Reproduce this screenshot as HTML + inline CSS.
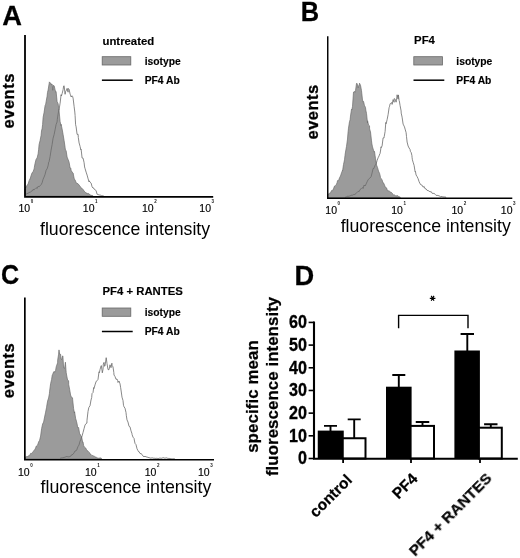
<!DOCTYPE html>
<html><head><meta charset="utf-8"><title>Figure</title>
<style>
html,body{margin:0;padding:0;background:#fff;}
body{width:520px;height:558px;overflow:hidden;font-family:"Liberation Sans",sans-serif;}
svg{display:block;}
</style></head><body>
<svg width="520" height="558" viewBox="0 0 520 558" font-family="'Liberation Sans', sans-serif" fill="#000">
<defs><filter id="soft" x="0" y="0" width="520" height="558" filterUnits="userSpaceOnUse"><feGaussianBlur stdDeviation="0.45"/></filter></defs>
<rect width="520" height="558" fill="#fff"/>
<g filter="url(#soft)">
<text transform="translate(2.3 24.8) scale(1.03 1.055)" font-size="26.5" font-weight="700" stroke="#000" stroke-width="0.25">A</text>
<text transform="translate(300.7 20.8) scale(0.96 1.055)" font-size="26.5" font-weight="700" stroke="#000" stroke-width="0.25">B</text>
<text transform="translate(0.9 283.9) scale(0.95 1.055)" font-size="26.5" font-weight="700" stroke="#000" stroke-width="0.25">C</text>
<text transform="translate(294.5 284.6) scale(1.03 1.055)" font-size="26.5" font-weight="700" stroke="#000" stroke-width="0.25">D</text>
<g id="A">
<path d="M25.1 196.2L25.1 189.0L26.1 187.1L27.1 185.2L28.1 184.0L29.1 180.7L30.0 178.9L30.1 179.1L31.1 175.5L32.1 172.7L33.1 171.8L34.1 168.9L34.3 167.5L35.1 163.2L36.1 159.3L37.1 158.0L38.1 153.9L38.6 149.8L39.1 144.4L40.1 140.5L41.1 135.3L41.5 131.0L42.1 128.6L42.6 124.6L43.1 117.5L43.9 113.2L44.1 112.3L45.1 105.4L45.7 104.2L46.1 101.7L47.1 96.2L47.5 92.4L48.1 90.1L49.1 83.8L49.4 81.9L50.1 82.7L51.0 84.5L51.1 84.0L52.1 84.1L52.8 90.3L53.1 85.3L54.1 86.0L54.2 85.9L55.1 89.8L55.7 92.2L56.1 91.7L57.1 101.5L58.1 103.7L59.1 110.9L60.1 121.5L61.0 125.6L61.1 124.3L62.1 128.9L63.1 134.5L64.1 140.6L65.1 147.4L65.4 150.0L66.1 150.5L67.1 157.1L68.1 159.5L69.1 162.2L70.1 168.0L70.8 168.1L71.1 170.3L72.1 172.1L73.1 173.0L74.1 178.2L75.1 180.5L75.4 180.5L76.1 182.7L77.1 183.3L78.1 183.8L79.1 185.1L80.1 186.3L81.1 187.7L81.5 188.3L82.1 188.4L83.1 189.5L84.1 191.1L85.1 191.9L86.1 193.1L87.1 193.0L87.7 193.9L88.1 193.6L89.1 193.8L90.1 195.0L91.1 195.3L92.1 195.6L93.0 195.8L93.0 196.2 Z" fill="#9b9b9b" stroke="#6c6c6c" stroke-width="0.7" stroke-linejoin="round"/>
<path d="M25.1 194.6L25.1 194.6L26.1 194.3L27.1 193.4L28.1 193.6L29.1 192.1L30.1 192.6L31.1 191.3L32.1 190.8L32.9 190.4L33.1 189.3L34.1 189.9L35.1 188.7L36.1 187.7L37.1 188.6L38.1 186.3L39.1 186.7L40.1 185.8L41.1 184.7L42.1 182.8L42.9 179.9L43.1 179.2L44.1 177.0L45.1 174.3L46.1 170.3L47.1 168.8L48.1 165.7L48.7 162.1L49.1 161.6L50.1 156.5L51.1 150.0L52.1 144.6L52.8 140.0L53.1 138.2L54.1 134.6L55.1 129.7L56.1 124.5L57.1 121.9L57.3 119.4L58.1 114.1L59.0 109.1L59.1 109.4L60.1 103.2L61.1 94.7L61.4 96.0L62.1 93.7L63.1 89.7L63.6 86.1L64.1 85.7L65.1 94.3L65.5 91.7L66.1 90.9L67.1 88.4L68.1 92.2L68.2 88.5L69.1 89.2L70.1 94.1L70.5 94.9L71.1 97.0L72.1 95.8L72.5 96.3L73.1 98.2L74.1 106.4L74.8 112.0L75.1 115.5L75.6 124.7L76.1 126.8L77.1 134.4L78.1 134.3L78.3 137.5L79.1 142.9L80.1 146.5L80.8 149.8L81.1 149.2L82.1 158.0L83.1 158.2L84.1 162.7L84.6 167.0L85.1 168.7L86.1 172.1L87.1 175.1L88.1 178.8L89.1 181.9L89.2 180.8L90.1 182.2L91.1 183.1L92.1 186.8L93.0 188.0L93.1 187.7L94.1 189.1L95.1 189.5L96.1 190.9L96.2 191.0L97.1 194.3L97.2 194.3L98.1 194.5L99.1 195.1L100.1 194.9L101.1 195.7L102.1 195.7L103.1 195.8L103.8 196.0" fill="#fff" fill-opacity="0" stroke="#6a6a6a" stroke-width="0.8" stroke-linejoin="round"/>
<path d="M25.00 35.00 V196.85 H213.20" fill="none" stroke="#000" stroke-width="1.80" stroke-linejoin="miter"/>
<text x="18.5" y="212.0" font-size="10.5" stroke="#000" stroke-width="0.15">10</text><text x="30.8" y="203.3" font-size="4.5" font-weight="700" fill="#222">0</text>
<text x="82.8" y="212.0" font-size="10.5" stroke="#000" stroke-width="0.15">10</text><text x="95.1" y="203.3" font-size="4.5" font-weight="700" fill="#222">1</text>
<text x="142.0" y="212.0" font-size="10.5" stroke="#000" stroke-width="0.15">10</text><text x="154.3" y="203.3" font-size="4.5" font-weight="700" fill="#222">2</text>
<text x="199.3" y="212.0" font-size="10.5" stroke="#000" stroke-width="0.15">10</text><text x="211.6" y="203.3" font-size="4.5" font-weight="700" fill="#222">3</text>
<text x="40" y="234.8" font-size="17.7">fluorescence intensity</text>
<text transform="translate(14.3 100.8) rotate(-90)" text-anchor="middle" font-size="16.50" font-weight="700" letter-spacing="0.50" stroke="#000" stroke-width="0.30">events</text>
<text x="102.5" y="44.6" font-size="11.35" font-weight="700" stroke="#000" stroke-width="0.15">untreated</text>
<rect x="102.2" y="56.7" width="28.6" height="8.3" fill="#9b9b9b" stroke="#686868" stroke-width="0.8"/>
<text x="144.7" y="64.7" font-size="10.3" font-weight="700" stroke="#000" stroke-width="0.15">isotype</text>
<path d="M101.9 80.2 h30.8" stroke="#000" stroke-width="1.5"/>
<text x="144.7" y="83.7" font-size="10.3" font-weight="700" stroke="#000" stroke-width="0.15">PF4 Ab</text>
</g>
<g id="B">
<path d="M327.5 197.7L327.5 194.5L328.5 194.0L329.5 193.3L330.5 192.9L331.5 190.6L332.5 190.8L333.4 188.8L333.5 188.8L334.5 186.1L335.5 185.4L336.5 184.3L337.2 182.3L337.5 180.6L338.5 180.7L339.5 177.8L340.5 176.0L341.5 172.9L342.5 170.3L342.6 170.8L343.5 164.5L344.5 159.8L345.0 155.4L345.5 152.0L346.5 146.4L347.5 139.1L348.1 131.8L348.5 128.2L349.5 121.6L350.1 119.8L350.5 116.1L351.5 109.2L351.9 109.8L352.5 106.4L353.5 92.1L354.5 91.4L355.0 92.3L355.5 90.7L356.5 83.5L357.0 83.3L357.5 84.8L358.2 87.8L358.5 86.4L359.3 84.5L359.5 83.2L360.5 85.3L361.5 90.7L362.5 100.1L362.7 101.8L363.5 101.3L364.2 104.3L364.5 105.5L365.5 107.5L365.8 110.1L366.5 113.4L367.5 123.0L367.6 120.8L368.5 124.9L369.5 125.8L369.6 128.9L370.5 132.0L371.5 140.8L371.9 143.9L372.5 146.9L373.5 150.2L374.2 152.1L374.5 151.5L375.0 155.2L375.5 158.6L376.5 165.0L377.5 167.4L378.5 171.1L379.5 173.2L380.2 175.8L380.5 177.9L381.5 178.9L382.5 180.9L382.7 182.6L383.5 182.8L384.5 185.1L385.5 187.5L386.5 187.8L387.5 190.8L387.8 190.7L388.5 190.8L389.5 191.2L390.5 192.1L391.5 192.5L392.5 193.6L392.8 194.2L393.5 194.9L394.5 194.9L395.5 195.7L396.5 195.8L397.5 195.6L398.5 196.4L399.5 196.8L400.3 197.2L400.3 197.7 Z" fill="#9b9b9b" stroke="#6c6c6c" stroke-width="0.7" stroke-linejoin="round"/>
<path d="M345.1 197.2L345.1 197.2L346.1 197.2L347.1 196.3L348.1 196.4L349.1 196.1L350.1 196.0L351.1 195.1L352.1 195.5L353.1 194.6L354.1 194.7L355.1 194.2L356.1 193.5L357.1 192.3L358.1 191.3L359.1 191.6L360.1 189.5L361.1 188.8L362.1 187.8L362.7 187.7L363.1 188.5L364.1 185.0L365.1 186.0L366.1 184.0L367.1 181.8L368.1 179.8L369.1 178.8L370.1 177.7L370.2 177.8L371.1 176.7L372.1 172.9L373.1 168.5L374.0 168.4L374.1 167.9L375.1 165.3L376.1 164.0L377.1 160.5L378.1 157.8L379.1 155.9L379.3 155.0L380.1 153.4L381.1 146.8L381.2 147.6L382.1 145.9L383.1 137.9L384.1 137.8L384.2 136.7L385.1 131.5L385.8 122.5L386.1 123.7L387.1 119.7L388.1 114.6L389.1 107.7L389.6 106.2L390.1 103.9L391.1 102.8L391.9 102.8L392.1 104.4L393.1 99.6L394.1 102.3L394.2 98.6L395.1 99.1L396.1 102.2L396.5 100.2L397.1 94.8L398.1 99.1L398.4 94.9L399.1 100.5L399.3 100.9L400.1 105.6L401.1 110.9L401.2 113.1L402.1 117.2L403.1 124.1L404.1 126.1L404.5 127.0L405.1 129.1L406.1 132.6L406.5 136.6L407.1 142.0L408.1 146.0L409.1 148.0L410.1 149.6L410.4 151.5L411.1 152.2L411.9 155.5L412.1 157.6L412.4 159.8L413.1 162.2L414.1 165.4L415.1 171.8L415.4 171.3L416.1 175.0L417.1 176.6L418.1 178.7L419.1 181.7L420.0 183.6L420.1 184.1L421.1 184.8L422.1 185.2L423.1 187.2L424.1 186.4L425.1 188.8L426.1 188.9L426.9 190.0L427.1 190.4L428.1 190.6L429.1 191.0L430.1 192.0L431.1 191.5L432.1 193.3L433.1 193.4L434.1 193.4L435.1 194.2L435.4 194.5L436.1 195.4L437.1 195.3L438.1 195.6L439.1 195.7L440.1 196.6L440.8 196.7L441.1 196.4L442.1 196.7L443.1 196.8L444.1 197.0L445.1 196.9L446.1 197.4L446.2 197.2" fill="#fff" fill-opacity="0" stroke="#6a6a6a" stroke-width="0.8" stroke-linejoin="round"/>
<path d="M327.75 36.20 V198.25 H512.30" fill="none" stroke="#000" stroke-width="1.45" stroke-linejoin="miter"/>
<text x="325.3" y="213.7" font-size="10.5" stroke="#000" stroke-width="0.15">10</text><text x="337.6" y="205.0" font-size="4.5" font-weight="700" fill="#222">0</text>
<text x="391.2" y="213.7" font-size="10.5" stroke="#000" stroke-width="0.15">10</text><text x="403.5" y="205.0" font-size="4.5" font-weight="700" fill="#222">1</text>
<text x="451.5" y="213.7" font-size="10.5" stroke="#000" stroke-width="0.15">10</text><text x="463.8" y="205.0" font-size="4.5" font-weight="700" fill="#222">2</text>
<text x="500.8" y="213.7" font-size="10.5" stroke="#000" stroke-width="0.15">10</text><text x="513.1" y="205.0" font-size="4.5" font-weight="700" fill="#222">3</text>
<text x="340.7" y="231.8" font-size="17.7">fluorescence intensity</text>
<text transform="translate(318.3 111.9) rotate(-90)" text-anchor="middle" font-size="16.50" font-weight="700" letter-spacing="0.50" stroke="#000" stroke-width="0.30">events</text>
<text x="414.1" y="44.0" font-size="11.35" font-weight="700" stroke="#000" stroke-width="0.15">PF4</text>
<rect x="413.8" y="56.7" width="28.6" height="8.3" fill="#9b9b9b" stroke="#686868" stroke-width="0.8"/>
<text x="456.3" y="64.7" font-size="10.3" font-weight="700" stroke="#000" stroke-width="0.15">isotype</text>
<path d="M413.5 80.2 h30.8" stroke="#000" stroke-width="1.5"/>
<text x="456.3" y="83.7" font-size="10.3" font-weight="700" stroke="#000" stroke-width="0.15">PF4 Ab</text>
</g>
<g id="C">
<path d="M24.6 459.0L24.6 457.5L25.6 457.2L26.6 456.6L27.6 456.5L28.6 455.8L29.4 455.5L29.6 455.5L30.6 453.4L31.6 453.5L32.6 452.2L33.2 451.5L33.6 450.9L34.6 449.8L35.6 448.1L36.3 446.0L36.6 445.9L37.6 445.2L38.6 441.9L39.4 440.6L39.6 440.3L40.6 436.1L41.6 428.7L42.6 424.0L43.6 422.1L44.6 417.0L45.6 412.2L46.5 407.6L46.6 406.8L47.6 401.1L48.6 398.0L49.4 393.6L49.6 391.2L50.6 383.7L51.6 379.4L52.3 374.8L52.6 374.5L53.6 372.0L54.2 371.4L54.6 372.4L55.6 370.4L56.2 366.9L56.6 365.5L57.6 362.9L57.7 360.1L58.6 354.2L59.0 349.9L59.6 354.1L60.6 354.3L61.0 358.4L61.6 359.7L62.6 355.9L62.9 356.0L63.6 367.8L63.8 367.8L64.6 368.3L65.4 362.2L65.6 364.9L66.2 372.6L66.6 375.0L67.6 380.2L68.6 380.7L68.7 384.6L69.6 389.2L70.6 395.1L71.6 397.5L72.5 397.8L72.6 399.2L73.6 408.6L74.4 413.1L74.6 411.8L75.6 418.3L76.6 421.8L77.3 425.0L77.6 427.6L78.6 427.5L79.6 433.8L80.2 434.2L80.6 435.6L81.6 436.5L82.6 442.2L83.0 441.8L83.6 445.4L84.6 447.4L85.6 447.9L86.6 449.7L87.6 450.8L88.6 452.0L89.6 452.7L90.6 454.7L90.8 454.4L91.6 455.2L92.6 455.5L93.6 456.0L94.6 456.4L95.6 457.1L96.6 457.4L96.9 457.5L97.6 458.0L98.6 458.2L99.6 458.0L100.6 457.9L101.5 458.4L101.5 459.0 Z" fill="#9b9b9b" stroke="#6c6c6c" stroke-width="0.7" stroke-linejoin="round"/>
<path d="M60.0 458.4L60.0 458.4L61.0 458.0L62.0 457.9L63.0 457.8L64.0 457.4L65.0 457.2L66.0 456.7L67.0 456.5L68.0 456.9L69.0 456.8L70.0 456.6L70.8 456.1L71.0 455.4L72.0 454.8L73.0 454.3L74.0 452.9L75.0 451.0L76.0 450.7L76.9 450.0L77.0 449.1L78.0 446.6L79.0 445.0L80.0 441.2L81.0 439.2L81.3 438.0L82.0 436.1L83.0 432.6L84.0 428.8L85.0 425.1L86.0 423.6L86.9 423.1L87.0 420.2L88.0 411.5L88.8 407.6L89.0 407.2L90.0 405.8L91.0 400.0L91.7 397.5L92.0 393.6L93.0 392.6L93.7 387.6L94.0 388.5L95.0 384.9L96.0 381.8L96.5 381.1L97.0 380.8L98.0 379.4L99.0 371.8L99.4 372.7L100.0 369.7L101.0 366.1L101.3 365.6L102.0 370.1L102.3 372.8L103.0 369.5L103.3 364.2L104.0 362.4L104.6 366.3L105.0 365.8L106.0 359.0L106.2 357.7L107.0 363.5L108.0 369.6L109.0 369.7L110.0 364.8L111.0 367.7L111.9 363.2L112.0 365.2L113.0 366.9L113.8 372.3L114.0 375.0L115.0 376.5L116.0 379.3L117.0 379.0L117.7 380.7L118.0 382.5L119.0 381.0L120.0 383.8L120.6 387.3L121.0 390.0L122.0 397.2L123.0 400.5L123.5 405.3L124.0 406.8L125.0 408.2L126.0 412.5L126.3 415.3L127.0 419.9L128.0 422.1L129.0 426.2L129.2 426.4L130.0 426.8L131.0 430.8L132.0 433.8L132.1 434.6L133.0 437.2L134.0 438.3L134.5 441.0L135.0 443.4L136.0 444.6L137.0 448.7L138.0 450.7L138.5 451.7L139.0 451.5L140.0 453.5L141.0 453.6L142.0 454.4L143.0 456.1L143.1 456.2L144.0 456.8L145.0 456.2L146.0 456.9L147.0 457.0L148.0 457.4L149.0 457.7L150.0 457.9L151.0 458.3L152.0 457.7L153.0 458.2L154.0 458.2L155.0 458.3L156.0 458.4L157.0 458.2L158.0 458.6L159.0 458.3L160.0 458.0L161.0 458.3L162.0 458.2L163.0 457.7L164.0 457.9L165.0 458.3L166.0 457.8L167.0 458.0L168.0 458.5L169.0 458.3L170.0 458.6L171.0 458.7L172.0 458.9L173.0 458.8L174.0 458.8L175.0 459.0" fill="#fff" fill-opacity="0" stroke="#6a6a6a" stroke-width="0.8" stroke-linejoin="round"/>
<path d="M24.85 297.60 V459.75 H214.00" fill="none" stroke="#000" stroke-width="1.70" stroke-linejoin="miter"/>
<text x="18.0" y="475.9" font-size="10.5" stroke="#000" stroke-width="0.15">10</text><text x="30.3" y="467.2" font-size="4.5" font-weight="700" fill="#222">0</text>
<text x="84.9" y="475.9" font-size="10.5" stroke="#000" stroke-width="0.15">10</text><text x="97.2" y="467.2" font-size="4.5" font-weight="700" fill="#222">1</text>
<text x="144.7" y="475.9" font-size="10.5" stroke="#000" stroke-width="0.15">10</text><text x="157.0" y="467.2" font-size="4.5" font-weight="700" fill="#222">2</text>
<text x="197.9" y="475.9" font-size="10.5" stroke="#000" stroke-width="0.15">10</text><text x="210.2" y="467.2" font-size="4.5" font-weight="700" fill="#222">3</text>
<text x="40.6" y="493.2" font-size="17.75">fluorescence intensity</text>
<text transform="translate(14.3 370.5) rotate(-90)" text-anchor="middle" font-size="16.50" font-weight="700" letter-spacing="0.50" stroke="#000" stroke-width="0.30">events</text>
<text x="102.5" y="295.4" font-size="11.35" font-weight="700" stroke="#000" stroke-width="0.15">PF4 + RANTES</text>
<rect x="102.2" y="308.0" width="28.6" height="8.3" fill="#9b9b9b" stroke="#686868" stroke-width="0.8"/>
<text x="144.7" y="316.0" font-size="10.3" font-weight="700" stroke="#000" stroke-width="0.15">isotype</text>
<path d="M101.9 331.5 h30.8" stroke="#000" stroke-width="1.5"/>
<text x="144.7" y="335.0" font-size="10.3" font-weight="700" stroke="#000" stroke-width="0.15">PF4 Ab</text>
</g>
<g id="D">
<path d="M330.50 431.60 V425.90 M324.00 425.90 H337.00" stroke="#000" stroke-width="1.9" fill="none"/>
<rect x="317.75" y="430.60" width="26.00" height="27.90" fill="#000"/>
<path d="M354.20 438.25 V419.40 M347.70 419.40 H360.70" stroke="#000" stroke-width="1.9" fill="none"/>
<rect x="342.75" y="438.25" width="22.75" height="20.25" fill="#fff" stroke="#000" stroke-width="2.0"/>
<path d="M398.80 387.70 V375.00 M392.30 375.00 H405.30" stroke="#000" stroke-width="1.9" fill="none"/>
<rect x="386.00" y="386.70" width="25.60" height="71.80" fill="#000"/>
<path d="M422.50 425.90 V422.00 M415.75 422.00 H429.25" stroke="#000" stroke-width="1.9" fill="none"/>
<rect x="410.60" y="425.90" width="23.40" height="32.60" fill="#fff" stroke="#000" stroke-width="2.0"/>
<path d="M467.30 351.50 V334.00 M460.60 334.00 H474.00" stroke="#000" stroke-width="1.9" fill="none"/>
<rect x="454.40" y="350.50" width="25.50" height="108.00" fill="#000"/>
<path d="M490.80 427.70 V424.20 M484.10 424.20 H497.50" stroke="#000" stroke-width="1.9" fill="none"/>
<rect x="478.90" y="427.70" width="22.90" height="30.80" fill="#fff" stroke="#000" stroke-width="2.0"/>
<path d="M314 321.62 V458.70 H517.8" fill="none" stroke="#000" stroke-width="2.1"/>
<path d="M308.6 458.50 H314" stroke="#000" stroke-width="1.6"/>
<text transform="translate(306.9 464.30) scale(1 1.13)" text-anchor="end" font-size="16.1" font-weight="700" stroke="#000" stroke-width="0.3">0</text>
<path d="M308.6 435.82 H314" stroke="#000" stroke-width="1.6"/>
<text transform="translate(306.9 441.62) scale(1 1.13)" text-anchor="end" font-size="16.1" font-weight="700" stroke="#000" stroke-width="0.3">10</text>
<path d="M308.6 413.14 H314" stroke="#000" stroke-width="1.6"/>
<text transform="translate(306.9 418.94) scale(1 1.13)" text-anchor="end" font-size="16.1" font-weight="700" stroke="#000" stroke-width="0.3">20</text>
<path d="M308.6 390.46 H314" stroke="#000" stroke-width="1.6"/>
<text transform="translate(306.9 396.26) scale(1 1.13)" text-anchor="end" font-size="16.1" font-weight="700" stroke="#000" stroke-width="0.3">30</text>
<path d="M308.6 367.78 H314" stroke="#000" stroke-width="1.6"/>
<text transform="translate(306.9 373.58) scale(1 1.13)" text-anchor="end" font-size="16.1" font-weight="700" stroke="#000" stroke-width="0.3">40</text>
<path d="M308.6 345.10 H314" stroke="#000" stroke-width="1.6"/>
<text transform="translate(306.9 350.90) scale(1 1.13)" text-anchor="end" font-size="16.1" font-weight="700" stroke="#000" stroke-width="0.3">50</text>
<path d="M308.6 322.42 H314" stroke="#000" stroke-width="1.6"/>
<text transform="translate(306.9 328.22) scale(1 1.13)" text-anchor="end" font-size="16.1" font-weight="700" stroke="#000" stroke-width="0.3">60</text>
<path d="M343.1 458.50 v4.4" stroke="#000" stroke-width="1.8"/>
<path d="M411.0 458.50 v4.4" stroke="#000" stroke-width="1.8"/>
<path d="M480.0 458.50 v4.4" stroke="#000" stroke-width="1.8"/>
<path d="M398.6 328.2 V315.4 H468.0 V328.2" fill="none" stroke="#000" stroke-width="1.4"/>
<path d="M429.80 298.30L435.40 298.30M431.20 295.88L434.00 300.72M434.00 295.88L431.20 300.72" stroke="#000" stroke-width="1.15" fill="none"/>
<text transform="translate(257.8 396.5) rotate(-90)" text-anchor="middle" font-size="16.80" font-weight="700" letter-spacing="0.13" stroke="#000" stroke-width="0.25">specific mean</text>
<text transform="translate(278.4 386.4) rotate(-90)" text-anchor="middle" font-size="16.80" font-weight="700" letter-spacing="0.10" stroke="#000" stroke-width="0.25">fluorescence intensity</text>
<text transform="translate(353.0 481.0) rotate(-45)" text-anchor="end" font-size="15.5" font-weight="700" stroke="#000" stroke-width="0.25">control</text>
<text transform="translate(418.6 479.6) rotate(-45)" text-anchor="end" font-size="15.5" font-weight="700" stroke="#000" stroke-width="0.25">PF4</text>
<text transform="translate(492.6 479.2) rotate(-45)" text-anchor="end" font-size="15.5" font-weight="700" stroke="#000" stroke-width="0.25">PF4 + RANTES</text>
</g>
</g>
</svg>
</body></html>
